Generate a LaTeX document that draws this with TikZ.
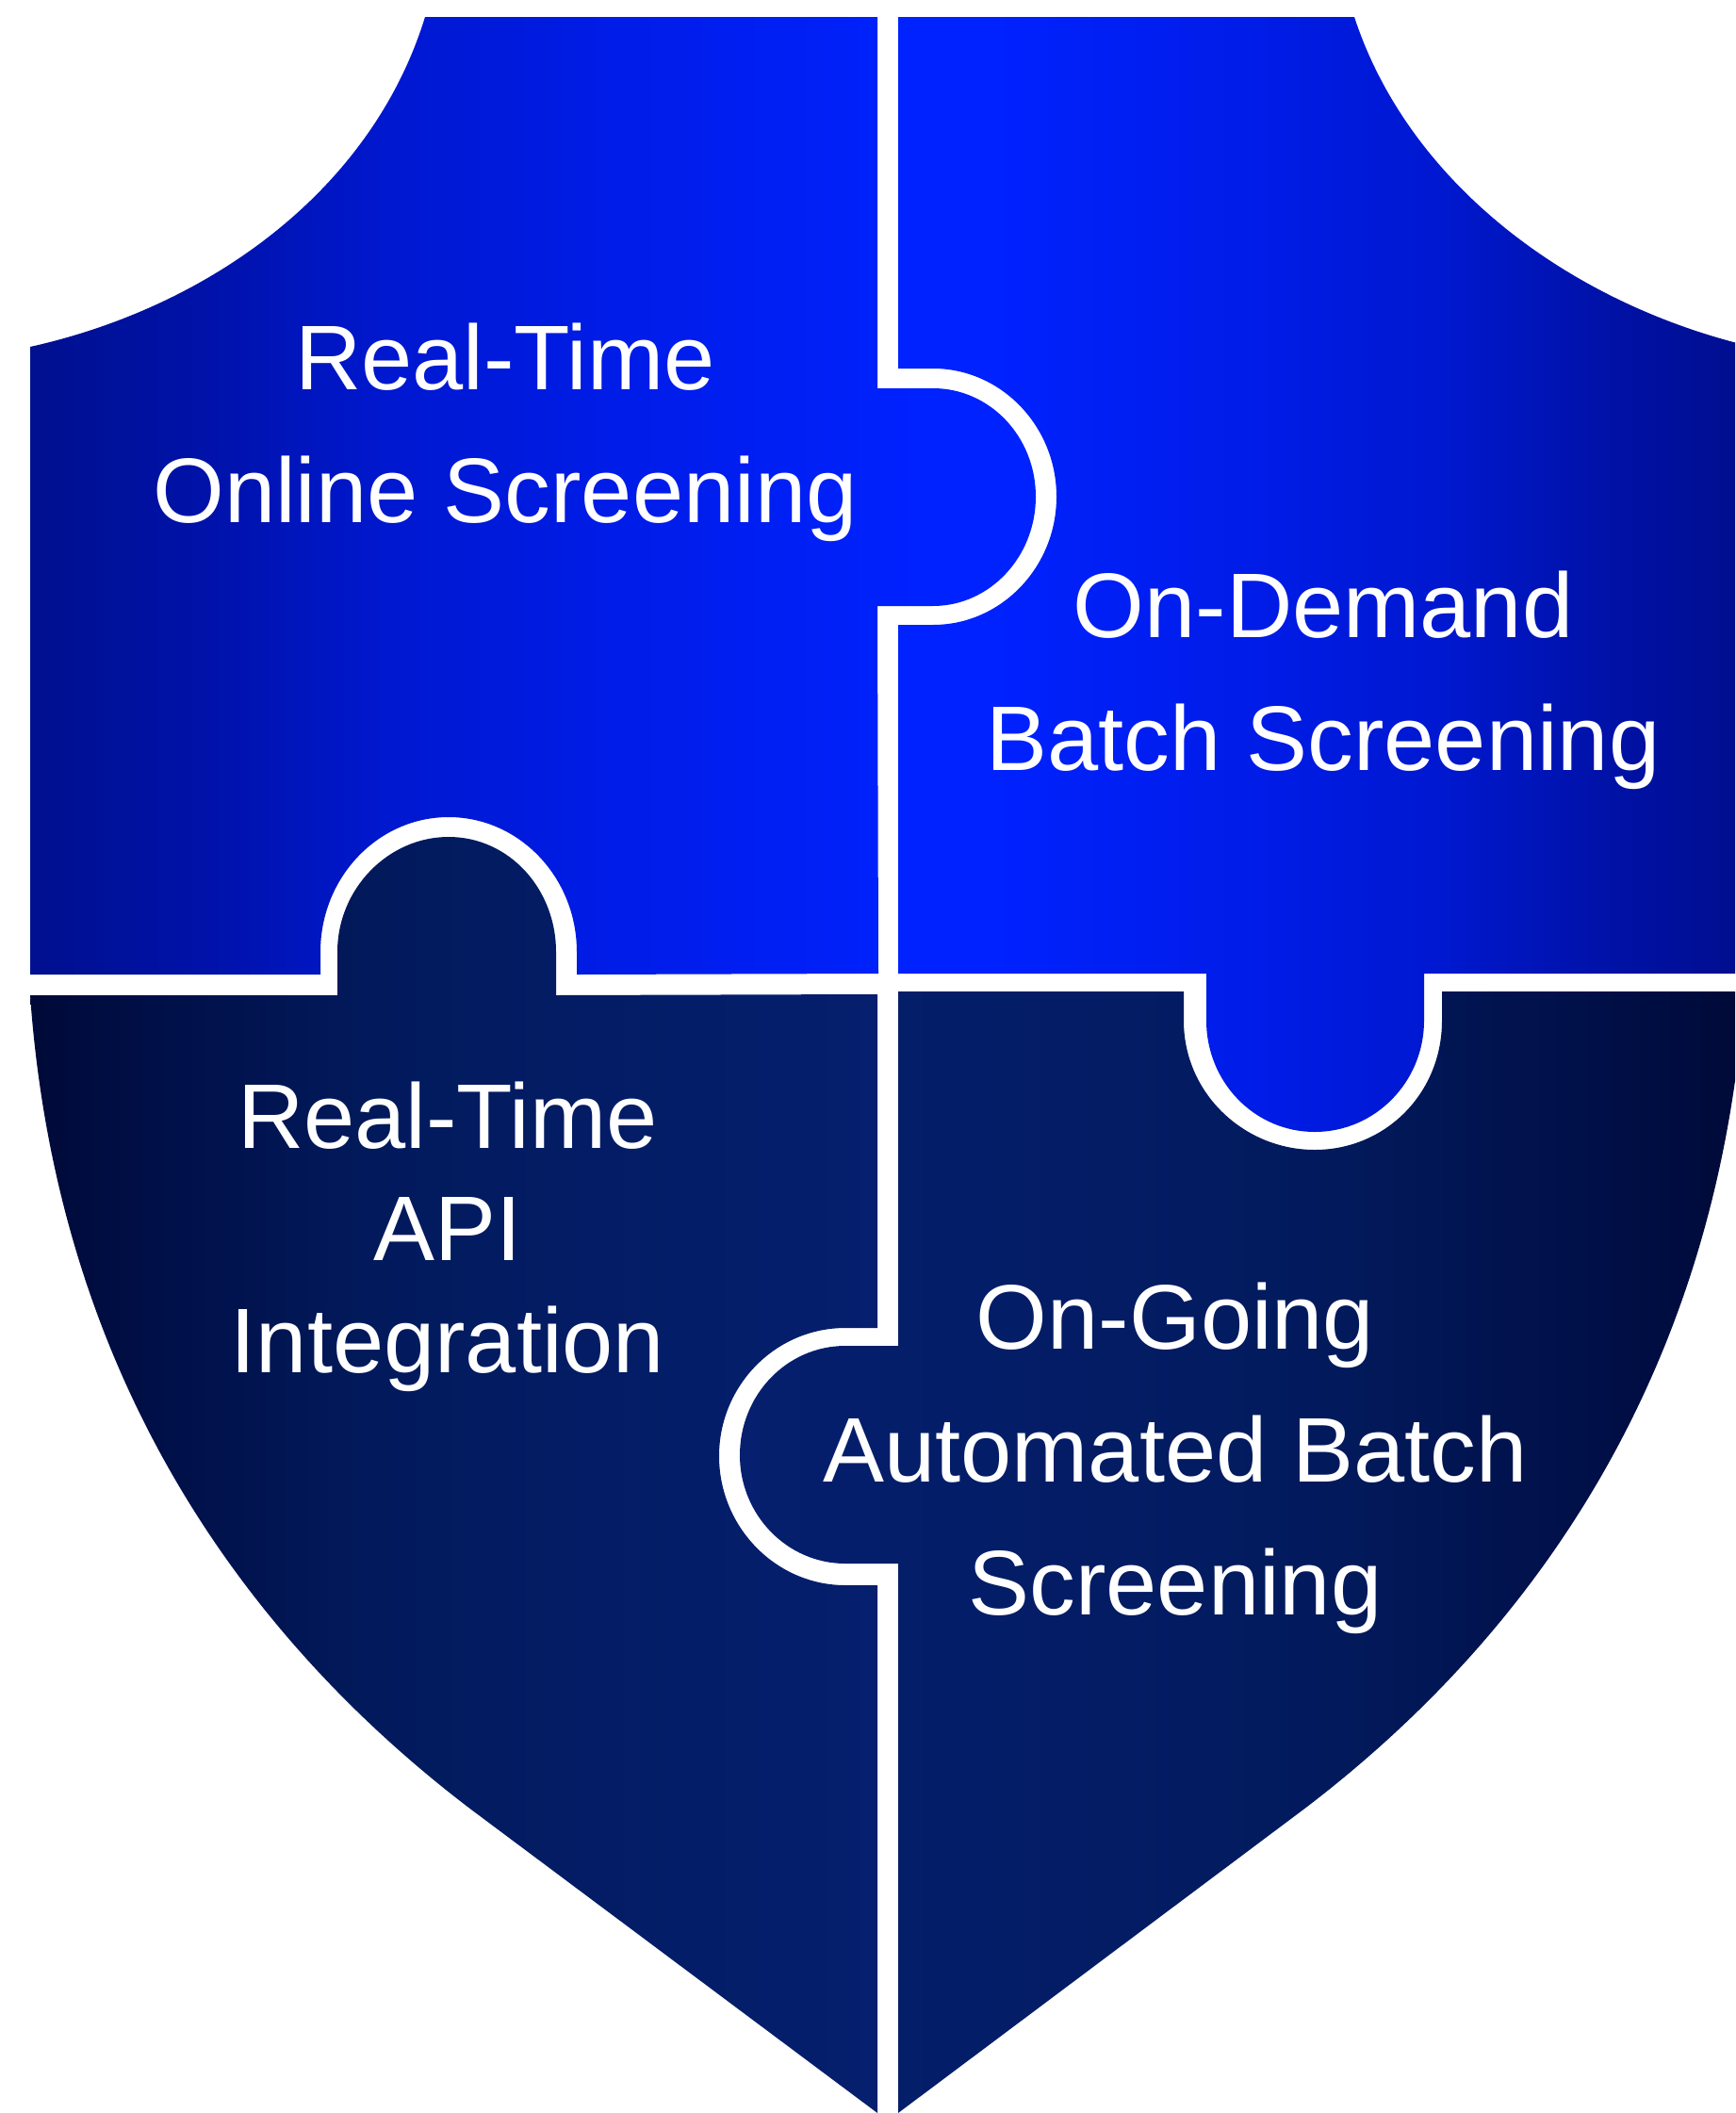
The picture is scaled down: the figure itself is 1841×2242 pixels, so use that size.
\documentclass[tikz,border=0pt]{standalone}
\usepackage{fontspec}
\setmainfont{Liberation Sans}
\definecolor{ba}{HTML}{00108F}
\definecolor{bb}{HTML}{0012A8}
\definecolor{bc}{HTML}{0018D0}
\definecolor{bd}{HTML}{001CE8}
\definecolor{be}{HTML}{0022FF}
\definecolor{bf}{HTML}{000E8E}
\definecolor{na}{HTML}{000A38}
\definecolor{nb}{HTML}{000E45}
\definecolor{nc}{HTML}{021A5C}
\definecolor{nd}{HTML}{041D68}
\definecolor{ne}{HTML}{061F6E}
\pgfdeclarehorizontalshading{shadeUL}{100bp}{color(0bp)=(ba); color(25bp)=(ba); color(33.5bp)=(bb); color(43bp)=(bc); color(54.5bp)=(bd); color(70bp)=(be); color(75bp)=(be); color(100bp)=(be)}
\pgfdeclarehorizontalshading{shadeUR}{100bp}{color(0bp)=(be); color(25bp)=(be); color(30bp)=(be); color(45.5bp)=(bd); color(57bp)=(bc); color(66.5bp)=(bb); color(75bp)=(bf); color(100bp)=(bf)}
\pgfdeclarehorizontalshading{shadeLL}{100bp}{color(0bp)=(na); color(25bp)=(na); color(31bp)=(nb); color(45.5bp)=(nc); color(63bp)=(nd); color(75bp)=(ne); color(100bp)=(ne)}
\pgfdeclarehorizontalshading{shadeLR}{100bp}{color(0bp)=(ne); color(25bp)=(ne); color(37bp)=(nd); color(54.5bp)=(nc); color(69bp)=(nb); color(75bp)=(na); color(100bp)=(na)}
\tikzset{
  upperleft/.style={shading=shadeUL,draw=none},
  upperright/.style={shading=shadeUR,draw=none},
  lowerleft/.style={shading=shadeLL,draw=none},
  lowerright/.style={shading=shadeLR,draw=none},
  labelA/.style={text=white,align=center,inner sep=0pt,font=\fontsize{27.7}{40.1}\selectfont},
  labelB/.style={text=white,align=center,inner sep=0pt,font=\fontsize{27.7}{33.8}\selectfont}
}
\begin{document}
\begin{tikzpicture}[x=0.01cm,y=-0.01cm]
\useasboundingbox (0,0) rectangle (1841,2242);
\clip (0,0) rectangle (1841,2242);
% upper left
\shade[upperleft] (451,18) -- (931,18) -- (931,412) -- (990,412)
  .. controls (1050,412) and (1099,463) .. (1099,527)
  .. controls (1099,591) and (1050,643) .. (990,643)
  -- (931,643) -- (932,1033) -- (612,1034) -- (612,1010)
  .. controls (612,931) and (551,867) .. (476,867)
  .. controls (401,867) and (340,931) .. (340,1010)
  -- (340,1034) -- (32,1034) -- (32,368)
  .. controls (225,325) and (395,200) .. (451,18) -- cycle;
% upper right
\shade[upperright] (1437,18) -- (953,18) -- (953,391) -- (990,391)
  .. controls (1062,391) and (1121,452) .. (1121,527)
  .. controls (1121,602) and (1062,663) .. (990,663)
  -- (953,663) -- (953,1033) -- (1280,1033) -- (1280,1083)
  .. controls (1280,1148) and (1331,1201) .. (1395,1201)
  .. controls (1459,1201) and (1511,1148) .. (1511,1083)
  -- (1511,1033) -- (1851,1033) -- (1851,366)
  .. controls (1665,320) and (1495,195) .. (1437,18) -- cycle;
% lower left
\shade[lowerleft] (32,1056) -- (358,1056) -- (358,1010)
  .. controls (358,943) and (412,888) .. (476,888)
  .. controls (540,888) and (590,943) .. (590,1010)
  -- (590,1056) -- (931,1055) -- (931,1409) -- (897,1409)
  .. controls (823,1409) and (763,1470) .. (763,1545)
  .. controls (763,1620) and (823,1682) .. (897,1682)
  -- (931,1682) -- (931,2242) -- (500,1920)
  .. controls (250,1730) and (60,1450) .. (32,1056) -- cycle;
% lower right
\shade[lowerright] (1851,1052) -- (1530,1052) -- (1530,1083)
  .. controls (1530,1160) and (1470,1220) .. (1395,1220)
  .. controls (1320,1220) and (1256,1160) .. (1256,1083)
  -- (1256,1052) -- (953,1052) -- (953,1428) -- (897,1428)
  .. controls (835,1428) and (785,1480) .. (785,1544)
  .. controls (785,1607) and (835,1659) .. (897,1659)
  -- (953,1659) -- (953,2242) -- (1383,1920)
  .. controls (1633,1730) and (1823,1450) .. (1851,1052) -- cycle;
\node[labelA] (online) at (536,459) {Real-Time\\Online Screening};
\node[labelA] (batch) at (1404,722) {On-Demand\\Batch Screening};
\node[labelB] (api) at (475,1312) {Real-Time\\API\\Integration};
\node[labelA] (auto) at (1247,1547) {On-Going\\Automated Batch\\Screening};
\end{tikzpicture}
\end{document}
